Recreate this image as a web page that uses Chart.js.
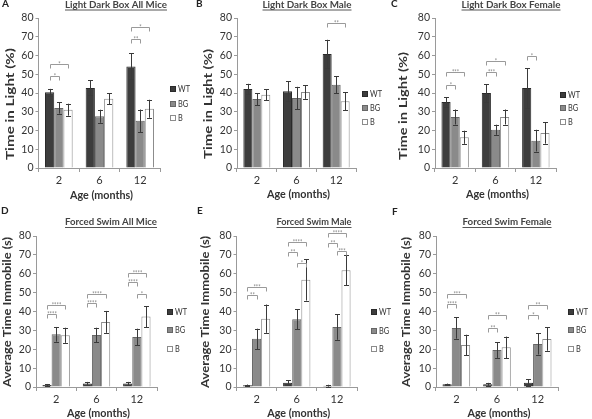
<!DOCTYPE html>
<html><head><meta charset="utf-8">
<script src="https://cdn.jsdelivr.net/npm/chart.js@4/dist/chart.umd.min.js"></script>
<style>
html,body{margin:0;padding:0;background:#fff;}
body{width:592px;height:419px;position:relative;overflow:hidden;}
canvas{position:absolute;}
</style></head><body>
<canvas id="cA"></canvas><canvas id="cB"></canvas><canvas id="cC"></canvas>
<canvas id="cD"></canvas><canvas id="cE"></canvas><canvas id="cF"></canvas>
<script>
// ---------- shared labels ----------
const categories = ['2', '6', '12'];
const seriesNames = ['WT', 'BG', 'B'];
const yTickValues = [0, 10, 20, 30, 40, 50, 60, 70, 80];

// ---------- A: Light Dark Box All Mice ----------
const ldAllWT = [40.4, 42.7, 54.2];
const ldAllWTErr = [1.8, 4.0, 7.0];
const ldAllBG = [32.0, 27.6, 25.2];
const ldAllBGErr = [3.0, 3.5, 6.0];
const ldAllB = [31.1, 37.0, 31.6];
const ldAllBErr = [3.2, 3.0, 4.8];
const ldAllSig = [[0,0,1,49.2,'*'],[0,0,2,55.6,'*'],[2,0,1,68.8,'**'],[2,0,2,75.0,'*']];

// ---------- B: Light Dark Box Male ----------
const ldMaleWT = [42.1, 40.9, 60.8];
const ldMaleWTErr = [2.8, 5.3, 7.6];
const ldMaleBG = [36.8, 37.3, 44.4];
const ldMaleBGErr = [3.2, 6.0, 4.5];
const ldMaleB = [39.1, 40.5, 35.6];
const ldMaleBErr = [3.0, 3.6, 4.8];
const ldMaleSig = [[2,0,2,77.3,'**']];

// ---------- C: Light Dark Box Female ----------
const ldFemWT = [35.2, 40.0, 42.7];
const ldFemWTErr = [2.5, 4.8, 10.6];
const ldFemBG = [27.2, 20.4, 14.6];
const ldFemBGErr = [4.0, 2.7, 5.8];
const ldFemB = [16.4, 27.2, 18.7];
const ldFemBErr = [3.5, 4.0, 5.7];
const ldFemSig = [[0,0,1,44.4,'*'],[0,0,2,51.0,'***'],[1,0,1,51.0,'***'],[1,0,2,57.2,'*'],[2,0,1,60.0,'*']];

// ---------- D: Forced Swim All Mice ----------
const fsAllWT = [1.1, 1.9, 1.8];
const fsAllWTErr = [0.5, 0.8, 0.9];
const fsAllBG = [27.9, 27.6, 26.5];
const fsAllBGErr = [3.9, 3.8, 4.4];
const fsAllB = [27.4, 34.5, 37.3];
const fsAllBErr = [4.0, 5.8, 5.6];
const fsAllSig = [[0,0,1,38.5,'****'],[0,0,2,43.5,'****'],[1,0,1,44.7,'****'],[1,0,2,49.5,'****'],[2,0,1,55.6,'****'],[2,0,2,60.6,'****'],[2,1,2,49.1,'*']];

// ---------- E: Forced Swim Male ----------
const fsMaleWT = [0.9, 2.3, 0.7];
const fsMaleWTErr = [0.4, 1.2, 0.5];
const fsMaleBG = [25.5, 35.9, 31.8];
const fsMaleBGErr = [5.4, 5.4, 6.8];
const fsMaleB = [36.2, 56.8, 61.8];
const fsMaleBErr = [7.5, 11.0, 8.0];
const fsMaleSig = [[0,0,1,48.8,'**'],[0,0,2,53.2,'***'],[1,0,1,71.4,'**'],[1,0,2,76.8,'****'],[1,1,2,65.7,'*'],[2,0,1,76.1,'**'],[2,0,2,81.8,'****'],[2,1,2,72.0,'***']];

// ---------- F: Forced Swim Female ----------
const fsFemWT = [1.4, 1.4, 2.3];
const fsFemWTErr = [0.4, 0.8, 1.7];
const fsFemBG = [31.3, 19.6, 22.8];
const fsFemBGErr = [5.7, 4.2, 5.6];
const fsFemB = [22.2, 21.0, 25.4];
const fsFemBErr = [5.5, 5.7, 6.2];
const fsFemSig = [[0,0,1,44.1,'****'],[0,0,2,49.4,'***'],[1,0,1,31.3,'**'],[1,0,2,38.4,'**'],[2,0,1,38.4,'*'],[2,0,2,43.7,'**']];

// ---------- styling ----------
const FONT = 'Lato, "Open Sans", sans-serif';
const barFill = ['#3d3d3d', '#8a8a8a', '#ffffff'];
const barEdge = ['#2a2a2a', '#666666', '#8c8c8c'];
const axisColor = '#9a9a9a';
const textColor = '#333333';

function drawText(ctx, s, x, y, o) {
  ctx.save();
  ctx.font = o.font;
  ctx.fillStyle = o.color || textColor;
  ctx.textBaseline = o.baseline || 'middle';
  ctx.textAlign = o.align || 'center';
  ctx.translate(x, y);
  if (o.rotate) ctx.rotate(-Math.PI / 2);
  const w = ctx.measureText(s).width;
  const sx = o.width ? o.width / w : (o.scaleX || 1);
  ctx.scale(sx, 1);
  ctx.fillText(s, 0, 0);
  ctx.restore();
  return w * sx;
}

const decoPlugin = {
  id: 'deco',
  afterDatasetsDraw(chart) {
    const d = chart.options.plugins.deco;
    const ctx = chart.ctx;
    const ys = chart.scales.y;
    // error bars
    ctx.save();
    ctx.strokeStyle = '#3a3a3a';
    ctx.lineWidth = 1;
    chart.data.datasets.forEach((ds, i) => {
      const meta = chart.getDatasetMeta(i);
      meta.data.forEach((el, j) => {
        const v = ds.data[j], e = ds.errors[j];
        const x = Math.round(el.x) + 0.5;
        const yt = ys.getPixelForValue(v + e), yb = ys.getPixelForValue(Math.max(0, v - e));
        ctx.beginPath();
        ctx.moveTo(x, yt); ctx.lineTo(x, yb);
        ctx.moveTo(x - 2.5, Math.round(yt) + 0.5); ctx.lineTo(x + 2.5, Math.round(yt) + 0.5);
        ctx.moveTo(x - 2.5, Math.round(yb) + 0.5); ctx.lineTo(x + 2.5, Math.round(yb) + 0.5);
        ctx.stroke();
      });
    });
    ctx.restore();
    // significance brackets
    ctx.save();
    ctx.strokeStyle = '#9a9a9a';
    ctx.lineWidth = 1;
    d.sig.forEach(([c, a, b, lvl, lab]) => {
      const x1 = Math.round(chart.getDatasetMeta(a).data[c].x) + 0.5;
      const x2 = Math.round(chart.getDatasetMeta(b).data[c].x) + 0.5;
      const y = Math.round(ys.getPixelForValue(lvl)) + 0.5;
      ctx.beginPath();
      ctx.moveTo(x1, y + 4); ctx.lineTo(x1, y); ctx.lineTo(x2, y); ctx.lineTo(x2, y + 4);
      ctx.stroke();
      drawText(ctx, lab, (x1 + x2) / 2, y + 2.5, {font: '7px ' + FONT, color: '#8a8a8a', baseline: 'alphabetic', scaleX: 0.8});
    });
    ctx.restore();
  },
  afterDraw(chart) {
    const d = chart.options.plugins.deco;
    const ctx = chart.ctx;
    const ca = chart.chartArea;
    // panel letter
    drawText(ctx, d.letter, d.letterX, d.letterY, {font: 'bold 10px ' + FONT, color: '#222', align: 'left'});
    // title with underline
    const tw = drawText(ctx, d.title, d.titleX, d.titleY, {font: 'bold 10px ' + FONT, color: '#444', width: d.titleW});
    ctx.save();
    ctx.strokeStyle = '#555'; ctx.lineWidth = 1;
    ctx.beginPath();
    ctx.moveTo(d.titleX - tw / 2, d.titleY + 5.5); ctx.lineTo(d.titleX + tw / 2, d.titleY + 5.5);
    ctx.stroke();
    ctx.restore();
    // y title
    drawText(ctx, d.yTitle, d.yTitleX, d.yTitleY, {font: 'bold 12px ' + FONT, color: '#333', rotate: true, width: d.yTitleW});
    // x title
    drawText(ctx, 'Age (months)', (ca.left + ca.right) / 2 + 2, d.xTitleY, {font: 'bold 12px ' + FONT, color: '#333', width: 63});
    // legend
    seriesNames.forEach((n, i) => {
      const x = d.legX, y = d.legY[i];
      ctx.save();
      ctx.fillStyle = barFill[i];
      ctx.strokeStyle = barEdge[i];
      ctx.fillRect(x, y - 3, 6, 6);
      ctx.strokeRect(x + 0.5, y - 2.5, 5, 5);
      ctx.restore();
      drawText(ctx, n, x + 8, y, {font: '9px ' + FONT, color: '#333', align: 'left', scaleX: 0.82});
    });
  }
};

function makePanel(id, g, deco, wt, wtErr, bg, bgErr, b, bErr) {
  const cv = document.getElementById(id);
  cv.width = g.w; cv.height = g.h;
  cv.style.left = g.x + 'px'; cv.style.top = g.y + 'px';
  cv.style.width = g.w + 'px'; cv.style.height = g.h + 'px';
  const vals = [wt, bg, b], errs = [wtErr, bgErr, bErr];
  new Chart(cv, {
    type: 'bar',
    data: {
      labels: categories,
      datasets: seriesNames.map((n, i) => ({
        label: n, data: vals[i], errors: errs[i],
        backgroundColor: barFill[i], borderColor: barEdge[i], borderWidth: 1,
        barPercentage: 1, categoryPercentage: 0.68
      }))
    },
    options: {
      responsive: false, animation: false, devicePixelRatio: 1,
      layout: {padding: {left: 0, top: g.axT, right: g.w - g.axR, bottom: 0}},
      plugins: {legend: {display: false}, tooltip: {enabled: false}, deco: deco},
      scales: {
        x: {
          grid: {drawOnChartArea: false, drawTicks: true, tickLength: 4, color: axisColor, offset: true},
          border: {color: axisColor, width: 1},
          ticks: {font: {family: FONT, size: 11}, color: textColor, padding: 2, maxRotation: 0},
          afterFit: s => { s.height = g.h - g.axB; }
        },
        y: {
          min: 0, max: 80,
          afterBuildTicks: s => { s.ticks = yTickValues.map(v => ({value: v})); },
          grid: {drawOnChartArea: false, drawTicks: true, tickLength: 3, color: axisColor},
          border: {color: axisColor, width: 1},
          ticks: {font: {family: FONT, size: 10.5}, color: textColor, padding: 2},
          afterFit: s => { s.width = g.axL; }
        }
      }
    },
    plugins: [decoPlugin]
  });
}

const topTitle = 'Time in Light (%)';
const botTitle = 'Average Time Immobile (s)';

makePanel('cA', {x: 0, y: 0, w: 200, h: 205, axL: 38.5, axR: 160.5, axT: 18, axB: 168},
  {letter: 'A', letterX: 2, letterY: 4, title: 'Light Dark Box All Mice', titleX: 116, titleY: 4.5, titleW: 102,
   yTitle: topTitle, yTitleX: 10, yTitleY: 104, yTitleW: 112, xTitleY: 195, legX: 170, legY: [89, 104, 118], sig: ldAllSig},
  ldAllWT, ldAllWTErr, ldAllBG, ldAllBGErr, ldAllB, ldAllBErr);

makePanel('cB', {x: 195, y: 0, w: 200, h: 205, axL: 42, axR: 161, axT: 18, axB: 168},
  {letter: 'B', letterX: 1, letterY: 4, title: 'Light Dark Box Male', titleX: 112, titleY: 4.5, titleW: 89,
   yTitle: topTitle, yTitleX: 13, yTitleY: 104, yTitleW: 110, xTitleY: 194, legX: 167, legY: [94, 108, 122], sig: ldMaleSig},
  ldMaleWT, ldMaleWTErr, ldMaleBG, ldMaleBGErr, ldMaleB, ldMaleBErr);

makePanel('cC', {x: 390, y: 0, w: 202, h: 205, axL: 45, axR: 166, axT: 18, axB: 168},
  {letter: 'C', letterX: 1, letterY: 4, title: 'Light Dark Box Female', titleX: 121, titleY: 4.5, titleW: 99,
   yTitle: topTitle, yTitleX: 13, yTitleY: 106, yTitleW: 108, xTitleY: 194, legX: 170, legY: [95, 108, 122], sig: ldFemSig},
  ldFemWT, ldFemWTErr, ldFemBG, ldFemBGErr, ldFemB, ldFemBErr);

makePanel('cD', {x: 0, y: 205, w: 200, h: 214, axL: 36, axR: 157, axT: 31, axB: 182},
  {letter: 'D', letterX: 1, letterY: 6, title: 'Forced Swim All Mice', titleX: 111, titleY: 17, titleW: 92,
   yTitle: botTitle, yTitleX: 7, yTitleY: 107, yTitleW: 150, xTitleY: 208, legX: 167, legY: [107, 125, 144], sig: fsAllSig},
  fsAllWT, fsAllWTErr, fsAllBG, fsAllBGErr, fsAllB, fsAllBErr);

makePanel('cE', {x: 195, y: 205, w: 200, h: 214, axL: 41.5, axR: 162, axT: 31, axB: 182},
  {letter: 'E', letterX: 2, letterY: 6, title: 'Forced Swim Male', titleX: 119, titleY: 17, titleW: 75,
   yTitle: botTitle, yTitleX: 10, yTitleY: 107, yTitleW: 152, xTitleY: 208, legX: 176, legY: [107, 126, 144], sig: fsMaleSig},
  fsMaleWT, fsMaleWTErr, fsMaleBG, fsMaleBGErr, fsMaleB, fsMaleBErr);

makePanel('cF', {x: 390, y: 205, w: 202, h: 214, axL: 46, axR: 168, axT: 31, axB: 182},
  {letter: 'F', letterX: 2, letterY: 7, title: 'Forced Swim Female', titleX: 117, titleY: 17, titleW: 89,
   yTitle: botTitle, yTitleX: 16, yTitleY: 107, yTitleW: 150, xTitleY: 208, legX: 178, legY: [107, 125, 144], sig: fsFemSig},
  fsFemWT, fsFemWTErr, fsFemBG, fsFemBGErr, fsFemB, fsFemBErr);
</script>
</body></html>
